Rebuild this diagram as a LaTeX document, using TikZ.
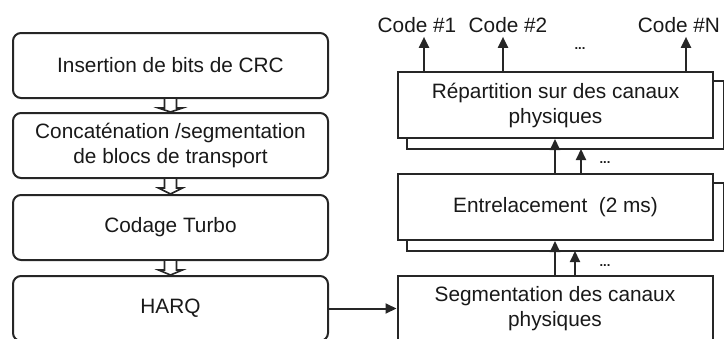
\documentclass[tikz,border=0pt]{standalone}
\usepackage{fontspec}
\setmainfont{Liberation Sans}
\usetikzlibrary{arrows.meta,calc,backgrounds}
\begin{document}
\begin{tikzpicture}[x=1pt,y=-1pt,
  every node/.style={font=\fontsize{20.8}{25}\selectfont, text=black!90},
  stage/.style={draw=black!85, line width=2pt, rounded corners=8pt, fill=white,
    minimum width=315pt, minimum height=65pt, align=center, inner sep=0pt},
  block/.style={draw=black!85, line width=2pt, fill=white,
    minimum width=315pt, minimum height=66pt, align=center, inner sep=0pt},
  backsheet/.style={draw=black!85, line width=2pt, fill=white},
  flow/.style={draw=black!85, line width=2pt, -{Triangle[length=11pt,width=10pt]}},
  hollow/.style={draw=black!85, line width=1.6pt, fill=white},
  dots/.style={font=\fontsize{13}{13}\selectfont\bfseries, inner sep=0pt},
  codelabel/.style={inner sep=0pt}
]
\useasboundingbox (0,0) rectangle (724,338);
\clip (0,0) rectangle (724,338);

% transport channel chain (left column)
\node[stage] (crc)  at (170.5,65.5)  {Insertion de bits de CRC};
\node[stage] (seg)  at (170.5,145.5) {Concaténation /segmentation\\de blocs de transport};
\node[stage] (turbo) at (170.5,227.5) {Codage Turbo};
\node[stage] (harq) at (170.5,308.5) {HARQ};

% hollow block arrows between stages
\newcommand\hollowarrow[2]{%
  \draw[hollow] ($(#1.south)+(-6,0)$) -- ++(0,9) -- ++(-6,0) -- (#2.north)
    -- ($(#1.south)+(12,9)$) -- ++(-6,0) -- ($(#1.south)+(6,0)$);}
\hollowarrow{crc}{seg}
\hollowarrow{seg}{turbo}
\hollowarrow{turbo}{harq}

% physical channel chain (right column)
\node[block] (pseg) at (555,308.5) {Segmentation des canaux\\physiques};
\node[block] (ent)  at (555.5,207) {Entrelacement\ \ (2 ms)};
\node[block] (rep)  at (555.5,105) {Répartition sur des canaux\\physiques};

% stacked sheets behind the per-channel blocks
\begin{scope}[on background layer]
  \draw[backsheet] ($(ent.north west)+(10,10)$) rectangle ($(ent.south east)+(10,10)$);
  \draw[backsheet] ($(rep.north west)+(10,10)$) rectangle ($(rep.south east)+(10,10)$);
\end{scope}

% HARQ output into the physical channel segmentation
\draw[flow] (harq.east) -- (pseg.west);

% segmentation -> interleaving
\coordinate (s1) at (pseg.north -| 555,0);
\coordinate (s2) at (pseg.north -| 575,0);
\draw[flow] (s1) -- (s1 |- ent.south);
\draw[flow] (s2) -- ($(s2 |- ent.south)+(0,10)$);
\node[dots] (d1) at (605,266) {...};

% interleaving -> mapping
\coordinate (e1) at (ent.north -| 555,0);
\coordinate (e2) at (ent.north -| 581,0);
\draw[flow] (e1) -- (e1 |- rep.south);
\draw[flow] (e2) -- ($(e2 |- rep.south)+(0,10)$);
\node[dots] (d2) at (605,163) {...};

% outputs to the physical channel codes
\node[codelabel] (c1) at (417,25) {Code \#1};
\node[codelabel] (c2) at (508,25) {Code \#2};
\node[codelabel] (cn) at (679,25) {Code \#N};
\node[dots] (d3) at (580,49) {...};
\coordinate (o1) at (rep.north -| 424,0);
\coordinate (o2) at (rep.north -| 503,0);
\coordinate (on) at (rep.north -| 686,0);
\draw[flow] (o1) -- ($(o1 |- c1.south)+(0,4)$);
\draw[flow] (o2) -- ($(o2 |- c2.south)+(0,4)$);
\draw[flow] (on) -- ($(on |- cn.south)+(0,4)$);
\end{tikzpicture}
\end{document}
